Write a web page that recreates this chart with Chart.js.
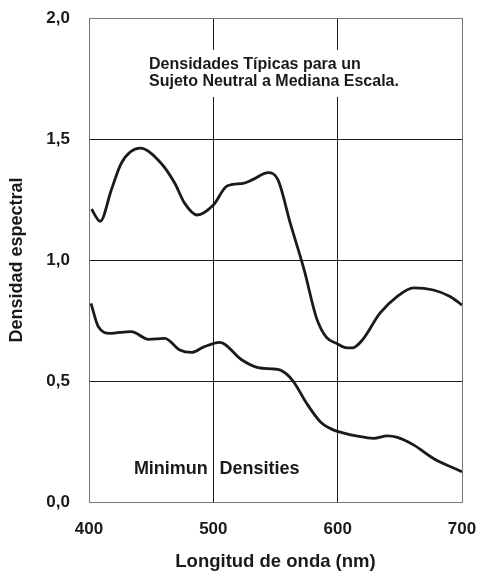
<!DOCTYPE html>
<html>
<head>
<meta charset="utf-8">
<script src="https://cdn.jsdelivr.net/npm/chart.js@4"></script>
<style>
  html, body { margin: 0; padding: 0; background: #fff; }
  #wrap { width: 477px; height: 577px; }
</style>
</head>
<body>
<div id="wrap"><canvas id="densityChart" width="477" height="577"></canvas></div>
<script>
// curva superior (densidades típicas)
const upperX = [402, 409, 418, 426, 441, 458, 469, 477, 487, 500, 511, 524, 532, 544, 552, 562, 573, 583, 591, 599, 606, 612, 620, 634, 648, 661, 677, 690, 700];
const upperY = [1.21, 1.16, 1.29, 1.40, 1.462, 1.40, 1.317, 1.234, 1.186, 1.227, 1.306, 1.317, 1.333, 1.361, 1.331, 1.15, 0.96, 0.76, 0.68, 0.656, 0.638, 0.637, 0.67, 0.78, 0.85, 0.885, 0.876, 0.85, 0.814];

// curva inferior (densidades mínimas)
const lowerX = [401.6, 407.5, 417, 434, 448, 461, 473, 482.6, 492, 505, 523, 536, 547, 554, 564, 575, 586, 596.5, 605, 615, 629, 640, 648, 661, 677, 700];
const lowerY = [0.821, 0.724, 0.697, 0.704, 0.672, 0.676, 0.628, 0.618, 0.64, 0.66, 0.587, 0.555, 0.55, 0.545, 0.501, 0.408, 0.332, 0.298, 0.285, 0.273, 0.263, 0.273, 0.267, 0.236, 0.18, 0.125];

const xTicks = [400, 500, 600, 700];
const yTicks = [0, 0.5, 1.0, 1.5, 2.0];

const FONT = "'Liberation Sans', Arial, sans-serif";

const toPoints = (xs, ys) => xs.map((x, i) => ({ x: x, y: ys[i] }));

// textos dentro del gráfico
const notesPlugin = {
    id: 'notes',
    beforeDatasetsDraw(chart) {
        const ctx = chart.ctx;
        const sx = chart.scales.x, sy = chart.scales.y;
        ctx.save();
        // caja blanca detrás del título interno
        const bx = sx.getPixelForValue(444), by = sy.getPixelForValue(1.868);
        ctx.fillStyle = '#fff';
        ctx.fillRect(bx, by, 262, sy.getPixelForValue(1.674) - by);

        ctx.fillStyle = '#1a1a1a';
        ctx.font = 'bold 16px ' + FONT;
        ctx.textBaseline = 'middle';
        ctx.textAlign = 'left';
        ctx.fillText('Densidades Típicas para un', sx.getPixelForValue(448.3), sy.getPixelForValue(1.806));
        ctx.fillText('Sujeto Neutral a Mediana Escala.', sx.getPixelForValue(448.3), sy.getPixelForValue(1.736));

        ctx.font = 'bold 18px ' + FONT;
        ctx.textAlign = 'right';
        ctx.fillText('Minimun', sx.getPixelForValue(495.6), sy.getPixelForValue(0.135));
        ctx.textAlign = 'left';
        ctx.fillText('Densities', sx.getPixelForValue(505), sy.getPixelForValue(0.135));
        ctx.restore();
    }
};

const edgeColor = (ctx, min, max) => {
    const v = ctx.tick ? ctx.tick.value : null;
    return (v === min || v === max) ? '#777' : '#1a1a1a';
};

new Chart(document.getElementById('densityChart').getContext('2d'), {
    type: 'line',
    data: {
        datasets: [
            { data: toPoints(upperX, upperY), borderColor: '#1a1a1a', borderWidth: 2.8, pointRadius: 0, cubicInterpolationMode: 'monotone', fill: false },
            { data: toPoints(lowerX, lowerY), borderColor: '#1a1a1a', borderWidth: 2.8, pointRadius: 0, cubicInterpolationMode: 'monotone', fill: false }
        ]
    },
    options: {
        responsive: false,
        animation: false,
        events: [],
        layout: { padding: { top: 18, right: 15, left: 0, bottom: 0 } },
        plugins: { legend: { display: false }, tooltip: { enabled: false } },
        scales: {
            x: {
                type: 'linear',
                min: 400, max: 700,
                afterBuildTicks: s => { s.ticks = xTicks.map(v => ({ value: v })); },
                afterFit: s => { s.height = 75; s.paddingLeft = 0; s.paddingRight = 0; },
                grid: { color: c => edgeColor(c, 400, 700), lineWidth: 1, drawTicks: false },
                border: { color: '#777', width: 1 },
                ticks: { color: '#1a1a1a', font: { family: FONT, size: 17, weight: 'bold' }, padding: 17 },
                title: { display: true, text: 'Longitud de onda (nm)', color: '#1a1a1a', font: { family: FONT, size: 18.5, weight: 'bold' }, padding: { top: 0, bottom: 4 } }
            },
            y: {
                min: 0, max: 2,
                afterBuildTicks: s => { s.ticks = yTicks.map(v => ({ value: v })); },
                afterFit: s => { s.width = 89; s.paddingTop = 0; s.paddingBottom = 0; },
                grid: { color: c => edgeColor(c, 0, 2), lineWidth: 1, drawTicks: false },
                border: { color: '#777', width: 1 },
                ticks: {
                    color: '#1a1a1a', font: { family: FONT, size: 17, weight: 'bold' }, padding: 19,
                    callback: v => v.toFixed(1).replace('.', ',')
                },
                title: { display: true, text: 'Densidad espectral', color: '#1a1a1a', font: { family: FONT, size: 18, weight: 'bold' }, padding: { top: 6, bottom: 0 } }
            }
        }
    },
    plugins: [notesPlugin]
});
</script>
</body>
</html>
